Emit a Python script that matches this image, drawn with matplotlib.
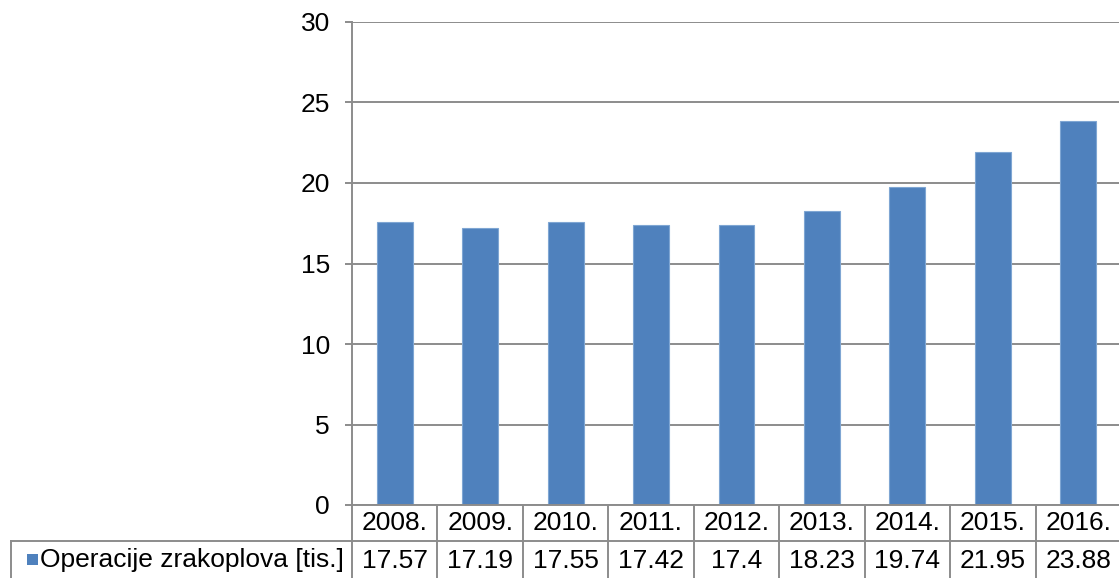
import matplotlib.pyplot as plt
from matplotlib.lines import Line2D
from matplotlib.patches import Rectangle

plt.rcParams['font.family'] = ['Liberation Sans', 'DejaVu Sans']

# Podaci
godine = ['2008.', '2009.', '2010.', '2011.', '2012.', '2013.', '2014.', '2015.', '2016.']
operacije = [17.57, 17.19, 17.55, 17.42, 17.4, 18.23, 19.74, 21.95, 23.88]
serija = 'Operacije zrakoplova [tis.]'
oznake = ['17.57', '17.19', '17.55', '17.42', '17.4', '18.23', '19.74', '21.95', '23.88']

W, H = 1119, 578
plava = '#4F81BD'
siva = '#8C8C8C'
fs = 19

fig = plt.figure(figsize=(W / 100, H / 100), dpi=100)
ax = fig.add_axes([352 / W, 1 - 505 / H, 769 / W, 483 / H])

x = range(len(godine))
ax.bar(x, operacije, width=0.42, color=plava, edgecolor='#7FA6D3', linewidth=0.8, zorder=3)

ax.set_xlim(-0.5, len(godine) - 0.5)
ax.set_ylim(0, 30)
ax.set_yticks(range(0, 31, 5))
ax.tick_params(axis='y', length=5, width=1.4, color=siva, pad=11, labelsize=fs)
ax.tick_params(axis='x', bottom=False, labelbottom=False)
ax.grid(axis='y', color=siva, linewidth=1.4, zorder=0)
for s in ['top', 'right', 'bottom']:
    ax.spines[s].set_visible(False)
ax.spines['left'].set_color(siva)
ax.spines['left'].set_linewidth(1.4)

# Tablica s podacima ispod grafa (koordinate u pikselima slike)
def fx(px):
    return px / W

def fy(py):
    return 1 - py / H

col0 = 352
colw = 769 / len(godine)
r0, r1, r2 = 505, 541, 578
lk = dict(color=siva, linewidth=1.4, transform=fig.transFigure)

fig.add_artist(Line2D([fx(col0), fx(col0 + 9 * colw)], [fy(r0), fy(r0)], **lk))
fig.add_artist(Line2D([fx(11), fx(col0 + 9 * colw)], [fy(r1), fy(r1)], **lk))
fig.add_artist(Line2D([fx(11), fx(11)], [fy(r1), fy(r2)], **lk))
for i in range(len(godine) + 1):
    xp = col0 + i * colw
    fig.add_artist(Line2D([fx(xp), fx(xp)], [fy(r0), fy(r2)], **lk))

for i, (g, v) in enumerate(zip(godine, oznake)):
    xc = col0 + (i + 0.5) * colw
    fig.text(fx(xc), fy((r0 + r1) / 2), g, ha='center', va='center', fontsize=fs)
    fig.text(fx(xc), fy((r1 + r2) / 2 + 1), v, ha='center', va='center', fontsize=fs)

# Legenda u prvoj ćeliji
fig.add_artist(Rectangle((fx(27), fy(565)), 11 / W, 11 / H, facecolor=plava,
                         edgecolor='none', transform=fig.transFigure))
fig.text(fx(40), fy((r1 + r2) / 2 + 1), serija, ha='left', va='center', fontsize=fs)

fig.savefig('out.png', dpi=100)
